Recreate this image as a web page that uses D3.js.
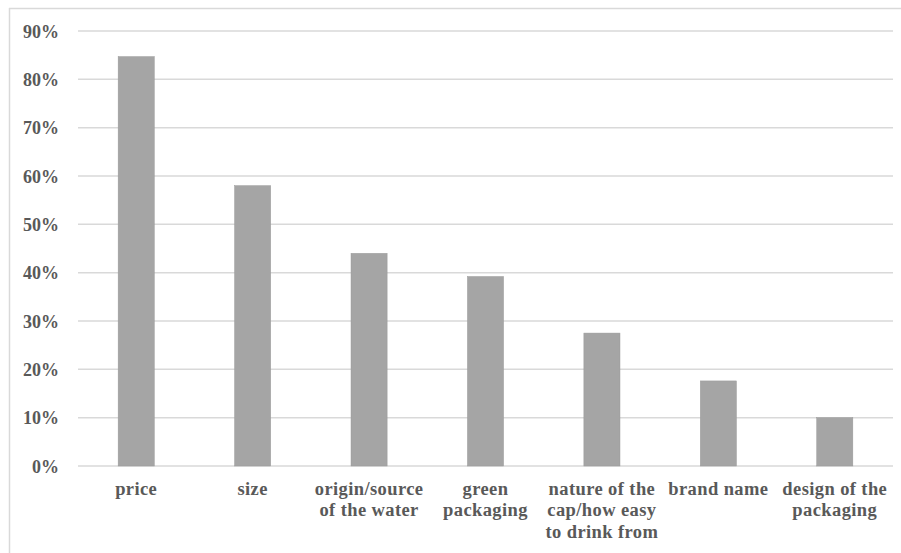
<!DOCTYPE html>
<html>
<head>
<meta charset="utf-8">
<script src="https://cdn.jsdelivr.net/npm/d3@7"></script>
<style>
  html, body { margin: 0; padding: 0; background: #fff; }
  svg { display: block; }
  .lbl { font-family: "Liberation Serif", "Times New Roman", serif; font-weight: bold; fill: #595959; }
</style>
</head>
<body>
<svg id="chart" width="901" height="553"></svg>
<script>
// Share of respondents citing each factor when choosing bottled water
const categories = [
  ["price"],
  ["size"],
  ["origin/source", "of the water"],
  ["green", "packaging"],
  ["nature of the", "cap/how easy", "to drink from"],
  ["brand name"],
  ["design of the", "packaging"]
];
const values = [0.847, 0.58, 0.44, 0.392, 0.275, 0.176, 0.10];
const yTicks = [0, 0.1, 0.2, 0.3, 0.4, 0.5, 0.6, 0.7, 0.8, 0.9];

const W = 901, H = 553;
const plot = { left: 78, right: 893, top: 31, bottom: 466 };

const svg = d3.select("#chart");

// chart frame (top and left edges)
svg.append("line").attr("x1", 9).attr("x2", W).attr("y1", 8.5).attr("y2", 8.5)
  .attr("stroke", "#d9d9d9").attr("stroke-width", 1.5);
svg.append("line").attr("x1", 9.5).attr("x2", 9.5).attr("y1", 8).attr("y2", H)
  .attr("stroke", "#d9d9d9").attr("stroke-width", 1.5);

const x = d3.scaleBand()
  .domain(d3.range(categories.length))
  .range([plot.left, plot.right])
  .paddingInner(0.69)
  .paddingOuter(0.345);

const y = d3.scaleLinear().domain([0, 0.9]).range([plot.bottom, plot.top]);

// gridlines
svg.append("g")
  .selectAll("line")
  .data(yTicks)
  .join("line")
  .attr("x1", plot.left).attr("x2", plot.right)
  .attr("y1", d => y(d)).attr("y2", d => y(d))
  .attr("stroke", "#d9d9d9").attr("stroke-width", 1.5);

// y-axis labels
const yAxis = d3.axisLeft(y).tickValues(yTicks).tickFormat(d3.format(".0%")).tickSize(0).tickPadding(0);
const ya = svg.append("g").attr("transform", "translate(59,0)").call(yAxis);
ya.select(".domain").remove();
ya.selectAll("text").attr("class", "lbl").attr("font-size", 18).attr("dy", "0.35em");

// bars
svg.append("g")
  .selectAll("rect")
  .data(values)
  .join("rect")
  .attr("x", (d, i) => x(i))
  .attr("width", x.bandwidth())
  .attr("y", d => y(d))
  .attr("height", d => y(0) - y(d))
  .attr("fill", "#a5a5a5")
  .attr("stroke", "#9a9a9a").attr("stroke-width", 0.5);

// category labels
const cl = svg.append("g")
  .selectAll("text")
  .data(categories)
  .join("text")
  .attr("class", "lbl")
  .attr("font-size", 18.5)
  .attr("letter-spacing", 0.4)
  .attr("text-anchor", "middle")
  .attr("x", (d, i) => x(i) + x.bandwidth() / 2)
  .attr("y", 495);
cl.selectAll("tspan")
  .data(d => d)
  .join("tspan")
  .attr("x", function() { return this.parentNode.getAttribute("x"); })
  .attr("dy", (d, i) => i === 0 ? 0 : 21.3)
  .text(d => d);
</script>
</body>
</html>
